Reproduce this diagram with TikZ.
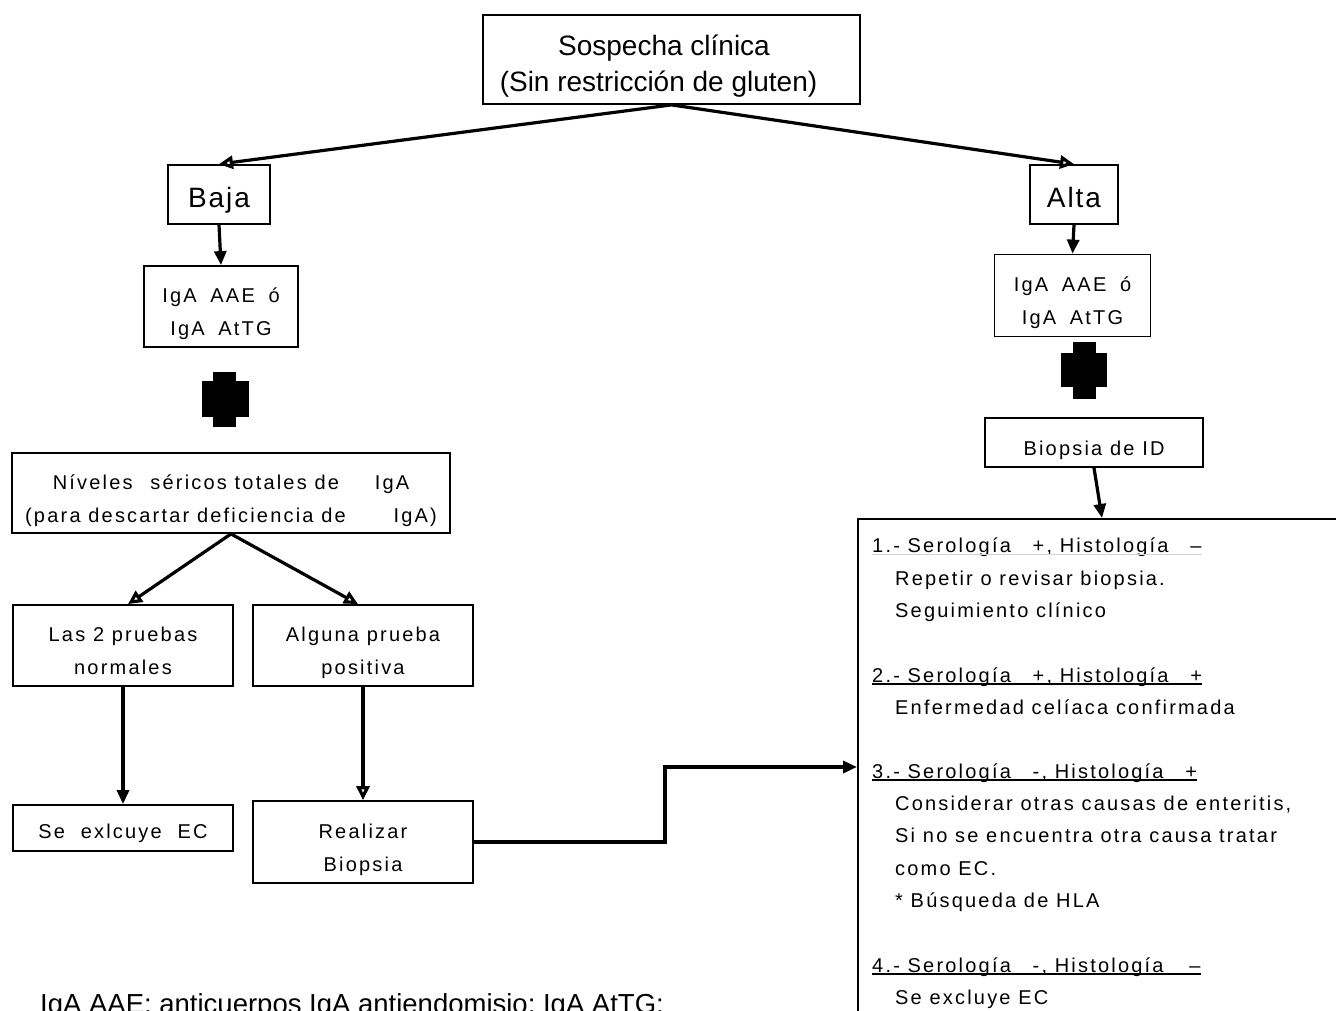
\documentclass[tikz,border=0pt]{standalone}
\usepackage{fontspec}
\setmainfont{Liberation Sans}
\newfontfamily\lsfont[LetterSpace=11]{Liberation Sans}
\newfontfamily\lsbigfont[LetterSpace=7]{Liberation Sans}
\usetikzlibrary{arrows.meta,calc}
\newcommand\stt{\rule[-5pt]{0pt}{35pt}}
\newcommand\stb{\rule[-5pt]{0pt}{5pt}}
\begin{document}
\begin{tikzpicture}[x=1pt,y=-1pt,
  box/.style={draw, line width=1.8pt, inner sep=0pt, align=center,
    font=\lsfont\fontsize{20}{33}\selectfont},
  bigbox/.style={box, font=\lsbigfont\fontsize{28}{34}\selectfont},
  topbox/.style={box, font=\fontsize{28}{36}\selectfont},
  conn/.style={line width=3.2pt, -{Triangle[open,length=14pt,width=13pt]}},
  connf/.style={line width=3.2pt, -{Triangle[length=14pt,width=12pt]}},
  ptext/.style={anchor=base west, inner sep=0pt, font=\lsfont\fontsize{20}{24}\selectfont},
  ul/.style={line width=1.6pt},
  crossfill/.style={fill=black},
]
\useasboundingbox (0,0) rectangle (1336,1011);
\clip (0,0) rectangle (1336,1011);

% boxes
\node[topbox, minimum width=377pt, minimum height=89pt] (top) at (671.5,59.5)
  {\rule[-6pt]{0pt}{40pt}Sospecha clínica\hspace*{15pt}\\(Sin restricción de gluten)\hspace*{26pt}\rule[-6pt]{0pt}{6pt}};
\node[bigbox, minimum width=102pt, minimum height=59pt] (baja) at (219,194.5)
  {\rule[-5pt]{0pt}{37pt}Baja};
\node[bigbox, minimum width=88pt, minimum height=59pt] (alta) at (1074,194.5)
  {\rule[-5pt]{0pt}{37pt}Alta};

\node[box, minimum width=154pt, minimum height=81pt] (igaL) at (221,306.5)
  {\stt IgA\hspace{6pt} AAE\hspace{6pt} ó\\IgA\hspace{6pt} AtTG\stb};
\node[box, minimum width=156pt, minimum height=82pt] (igaR) at (1072.5,295.5)
  {\stt IgA\hspace{6pt} AAE\hspace{6pt} ó\\IgA\hspace{6pt} AtTG\stb};

\node[box, minimum width=438pt, minimum height=80pt] (niv) at (231,493)
  {\stt Níveles\hspace{10pt} séricos totales de\hspace{28pt} IgA\\(para descartar deficiencia de\hspace{40pt} IgA)\stb};
\node[box, minimum width=220pt, minimum height=81pt] (las2) at (123,645.5)
  {\stt Las 2 pruebas\\normales\stb};
\node[box, minimum width=220pt, minimum height=81pt] (alg) at (363,645.5)
  {\stt Alguna prueba\\positiva\stb};
\node[box, minimum width=220pt, minimum height=46pt] (seex) at (123,828)
  {\rule[-5pt]{0pt}{31pt}Se\hspace{8pt} exlcuye\hspace{8pt} EC};
\node[box, minimum width=218pt, minimum height=49pt] (biop) at (1094,442.5)
  {\stt Biopsia de ID};
\node[box, minimum width=220pt, minimum height=82pt] (real) at (363,842)
  {\stt Realizar\\Biopsia\stb};

% result panel (extends beyond the page)
\node[draw, line width=1.8pt, anchor=north west, minimum width=700pt,
  minimum height=700pt, inner sep=0pt] (panel) at (857,518) {};
\coordinate (p3) at ($(panel.north west)+(0,249)$);
\coordinate (pin) at ($(panel.north west)+(245,0)$);

% crosses
\fill[crossfill] (213,372) rectangle (236,427);
\fill[crossfill] (202,381) rectangle (249,417);
\fill[crossfill] (1073,342) rectangle (1096,399);
\fill[crossfill] (1061,353) rectangle (1107,387);

% connectors
\draw[conn] (top.south) -- (baja.north);
\draw[conn] (top.south) -- (alta.north);
\draw[connf] (baja.south) -- (igaL.north);
\draw[connf] (alta.south) -- (igaR.north);
\draw[conn] (niv.south) -- ($(las2.north)+(5,0)$);
\draw[conn] (niv.south) -- ($(alg.north)+(-5,0)$);
\draw[connf] (las2.south) -- (seex.north);
\draw[conn] (alg.south) -- (real.north);
\draw[connf] (biop.south) -- (pin);
\draw[connf, line width=4.5pt] (real.east) -- ++(191,0) |- (p3);

% panel text
\node[ptext] (h1) at (872,552) {1.- Serología\hspace{14pt} +, Histología\hspace{14pt} –};
\draw[ul, gray!35] ($(h1.base west)+(0,2.5)$) -- ($(h1.base east)+(0,2.5)$);
\node[ptext] (t11) at (895,585) {Repetir o revisar biopsia.};
\node[ptext] (t12) at (895,617) {Seguimiento clínico};
\node[ptext] (h2) at (872,682) {2.- Serología\hspace{14pt} +, Histología\hspace{14pt} +};
\draw[ul] ($(h2.base west)+(0,2)$) -- ($(h2.base east)+(0,2)$);
\node[ptext] (t21) at (895,714) {Enfermedad celíaca confirmada};
\node[ptext] (h3) at (872,778) {3.- Serología\hspace{14pt} -, Histología\hspace{14pt} +};
\draw[ul] ($(h3.base west)+(0,2)$) -- ($(h3.base east)+(0,2)$);
\node[ptext] (t31) at (895,810) {Considerar otras causas de enteritis,};
\node[ptext] (t32) at (895,842) {Si no se encuentra otra causa tratar};
\node[ptext] (t33) at (895,875) {como EC.};
\node[ptext] (t34) at (895,907) {* Búsqueda de HLA};
\node[ptext] (h4) at (872,972) {4.- Serología\hspace{14pt} -, Histología\hspace{18pt} –};
\draw[ul] ($(h4.base west)+(0,2)$) -- ($(h4.base east)+(0,2)$);
\node[ptext] (t41) at (895,1004) {Se excluye EC};

% footnote
\node[anchor=base west, inner sep=0pt, font=\fontsize{27.5}{33}\selectfont] (note) at (40,1013)
  {IgA AAE: anticuerpos IgA antiendomisio; IgA AtTG:};
\end{tikzpicture}
\end{document}
